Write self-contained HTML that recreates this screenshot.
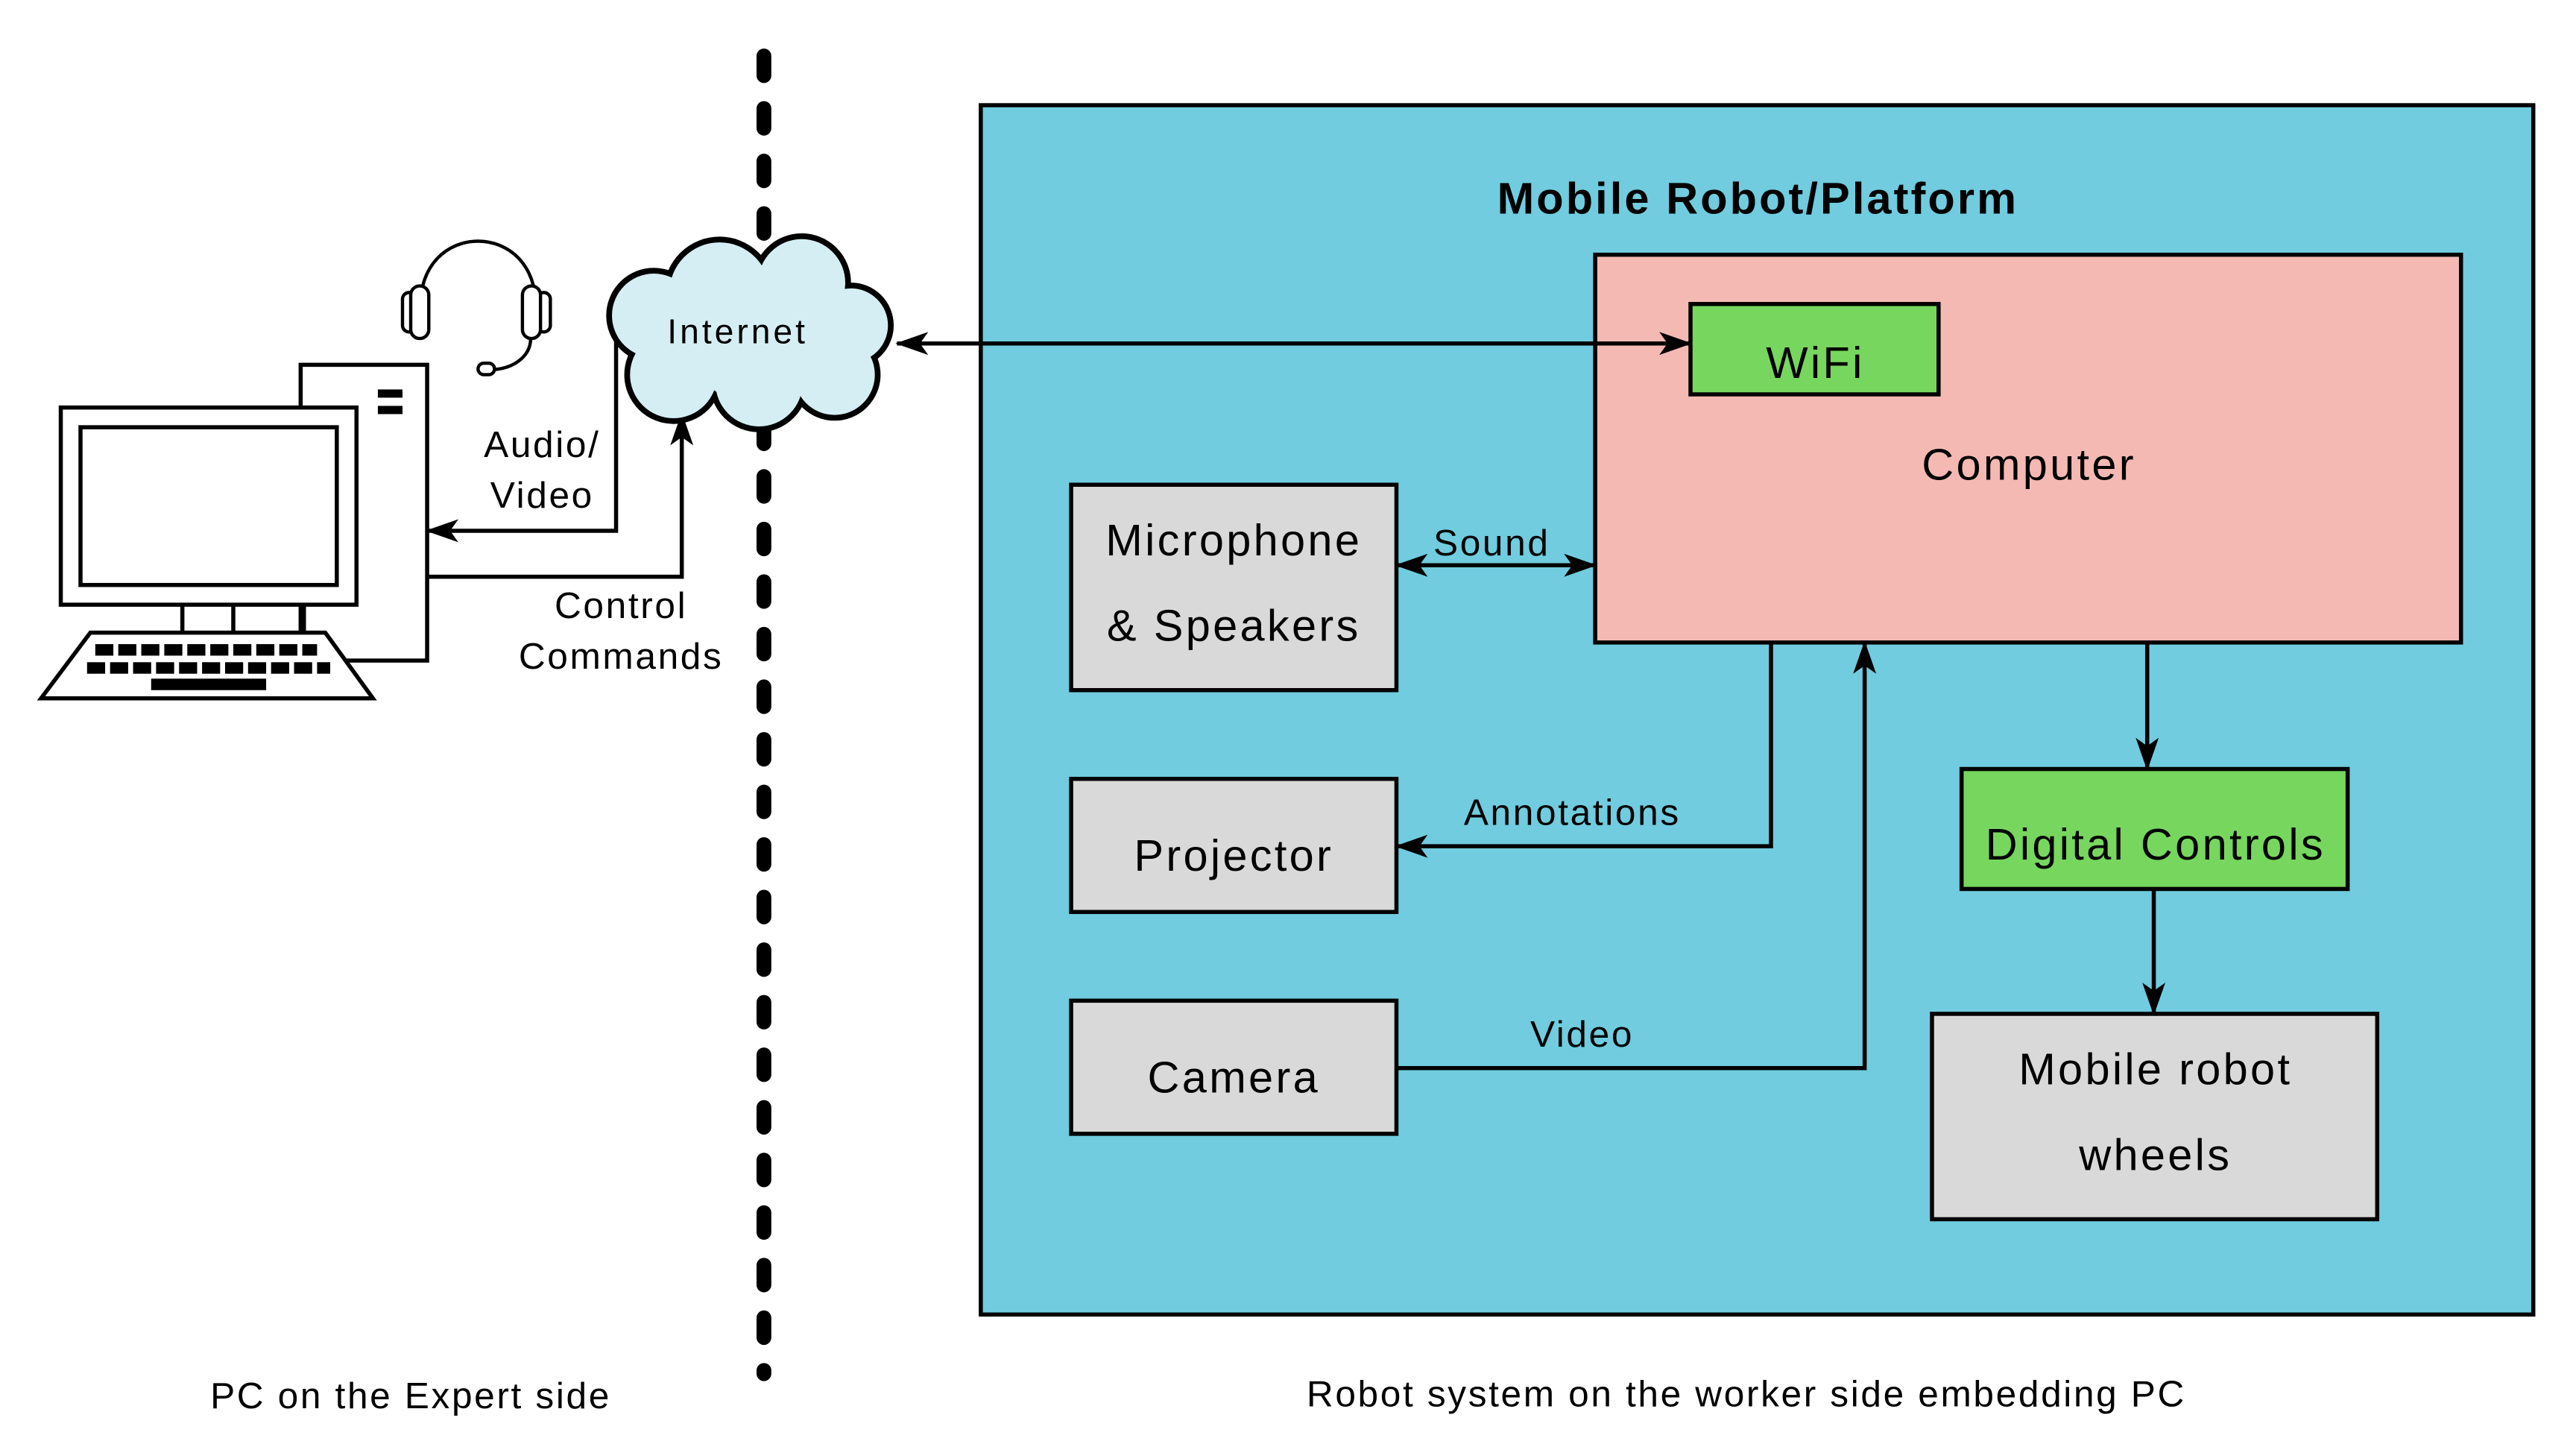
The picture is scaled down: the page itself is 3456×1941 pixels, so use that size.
<!DOCTYPE html>
<html><head><meta charset="utf-8"><style>html,body{margin:0;padding:0;background:#fff}svg{display:block}text{font-family:"Liberation Sans",sans-serif;fill:#000}</style></head><body>
<svg width="3456" height="1941" viewBox="0 0 1568 880.6" xmlns="http://www.w3.org/2000/svg">
<defs>
<marker id="a" viewBox="0 0 20 14" refX="19" refY="7" markerWidth="20" markerHeight="14" markerUnits="userSpaceOnUse" orient="auto-start-reverse"><path d="M0,0 L20,7 L0,14 L5,7 Z" fill="#000"/></marker>
</defs>
<rect width="1568" height="881" fill="#fff"/>
<line x1="465" y1="34" x2="465" y2="836" stroke="#000" stroke-width="9" stroke-linecap="round" stroke-dasharray="12 20"/>
<rect x="597" y="64" width="945" height="736" fill="#70CCDE" stroke="#000" stroke-width="2.5"/>
<g letter-spacing="1.4">
<text x="1070" y="130" font-size="27" font-weight="bold" text-anchor="middle">Mobile Robot/Platform</text>
</g>
<rect x="971" y="155" width="527" height="236" fill="#F4B9B3" stroke="#000" stroke-width="2.5"/>
<rect x="1029" y="185" width="151" height="55" fill="#77D65E" stroke="#000" stroke-width="2.5"/>
<rect x="652" y="295" width="198" height="125" fill="#D9D9D9" stroke="#000" stroke-width="2.5"/>
<rect x="652" y="474" width="198" height="81" fill="#D9D9D9" stroke="#000" stroke-width="2.5"/>
<rect x="652" y="609" width="198" height="81" fill="#D9D9D9" stroke="#000" stroke-width="2.5"/>
<rect x="1194" y="468" width="235" height="73" fill="#77D65E" stroke="#000" stroke-width="2.5"/>
<rect x="1176" y="617" width="271" height="125" fill="#D9D9D9" stroke="#000" stroke-width="2.5"/>
<g font-size="27" text-anchor="middle" letter-spacing="1.5">
<text x="1105" y="230">WiFi</text>
<text x="1235" y="292">Computer</text>
<text x="751" y="338">Microphone</text>
<text x="751" y="390">&amp; Speakers</text>
<text x="751" y="530">Projector</text>
<text x="751" y="665">Camera</text>
<text x="1312" y="523">Digital Controls</text>
<text x="1312" y="660">Mobile robot</text>
<text x="1312" y="712">wheels</text>
</g>
<g stroke="#000" stroke-width="2.5" fill="none">
<line x1="546" y1="209" x2="1029" y2="209" marker-start="url(#a)" marker-end="url(#a)"/>
<line x1="850" y1="344" x2="971" y2="344" marker-start="url(#a)" marker-end="url(#a)"/>
<polyline points="1078,391 1078,515 850,515" marker-end="url(#a)"/>
<polyline points="850,650 1135,650 1135,391" marker-end="url(#a)"/>
<line x1="1307" y1="391" x2="1307" y2="468" marker-end="url(#a)"/>
<line x1="1311" y1="541" x2="1311" y2="617" marker-end="url(#a)"/>
<polyline points="375,205 375,323 260,323" marker-end="url(#a)"/>
<polyline points="260,351 415,351 415,252" marker-end="url(#a)"/>
</g>
<g font-size="22.5" text-anchor="middle" letter-spacing="1.2">
<text x="908" y="338">Sound</text>
<text x="957" y="502">Annotations</text>
<text x="963" y="637">Video</text>
<text x="330" y="278">Audio/</text>
<text x="330" y="309">Video</text>
<text x="378" y="376">Control</text>
<text x="378" y="407">Commands</text>
<text x="250" y="857">PC on the Expert side</text>
<text x="1063" y="856">Robot system on the worker side embedding PC</text>
</g>
<g stroke="#000" stroke-width="4" fill="#D5EEF3">
<circle cx="398" cy="192" r="27"/><circle cx="438" cy="178" r="32"/><circle cx="488" cy="172" r="28"/><circle cx="518" cy="198" r="24"/><circle cx="508" cy="228" r="26"/><circle cx="462" cy="233" r="28"/><circle cx="410" cy="228" r="28"/>
</g>
<g fill="#D5EEF3">
<circle cx="398" cy="192" r="25.5"/><circle cx="438" cy="178" r="30.5"/><circle cx="488" cy="172" r="26.5"/><circle cx="518" cy="198" r="22.5"/><circle cx="508" cy="228" r="24.5"/><circle cx="462" cy="233" r="26.5"/><circle cx="410" cy="228" r="26.5"/><circle cx="458" cy="205" r="40"/>
</g>
<text x="449" y="209" font-size="21" text-anchor="middle" letter-spacing="1.8">Internet</text>
<g stroke="#000" stroke-width="2.5" fill="#fff">
<rect x="183" y="222" width="77" height="180"/>
<rect x="37" y="248" width="180" height="120"/>
<rect x="49" y="260" width="156" height="96"/>
<line x1="111" y1="368" x2="111" y2="385"/><line x1="142" y1="368" x2="142" y2="385"/><line x1="185" y1="368" x2="185" y2="385"/>
<polygon points="55,385 198,385 227,425 25,425"/>
</g>
<rect x="230" y="237" width="15" height="5" fill="#000"/><rect x="230" y="247" width="15" height="5" fill="#000"/>
<g fill="#000">
<rect x="58" y="392" width="11" height="7"/><rect x="72" y="392" width="11" height="7"/><rect x="86" y="392" width="11" height="7"/><rect x="100" y="392" width="11" height="7"/><rect x="114" y="392" width="11" height="7"/><rect x="128" y="392" width="11" height="7"/><rect x="142" y="392" width="11" height="7"/><rect x="156" y="392" width="11" height="7"/><rect x="170" y="392" width="11" height="7"/><rect x="184" y="392" width="9" height="7"/>
<rect x="53" y="403" width="11" height="7"/><rect x="67" y="403" width="11" height="7"/><rect x="81" y="403" width="11" height="7"/><rect x="95" y="403" width="11" height="7"/><rect x="109" y="403" width="11" height="7"/><rect x="123" y="403" width="11" height="7"/><rect x="137" y="403" width="11" height="7"/><rect x="151" y="403" width="11" height="7"/><rect x="165" y="403" width="11" height="7"/><rect x="179" y="403" width="11" height="7"/><rect x="193" y="403" width="8" height="7"/>
<rect x="92" y="413" width="70" height="7"/>
</g>
<g stroke="#000" stroke-width="2" fill="#fff">
<path d="M256,188 C254,133 328,133 326,188" fill="none"/>
<rect x="245" y="178" width="8" height="24" rx="4"/>
<rect x="250" y="174" width="11" height="32" rx="5.5"/>
<rect x="327" y="178" width="8" height="24" rx="4"/>
<rect x="318" y="174" width="11" height="32" rx="5.5"/>
<path d="M323,206 C323,216 314,224 300,225" fill="none"/>
<rect x="291" y="221" width="10" height="7" rx="3.5"/>
</g>
</svg>
</body></html>
